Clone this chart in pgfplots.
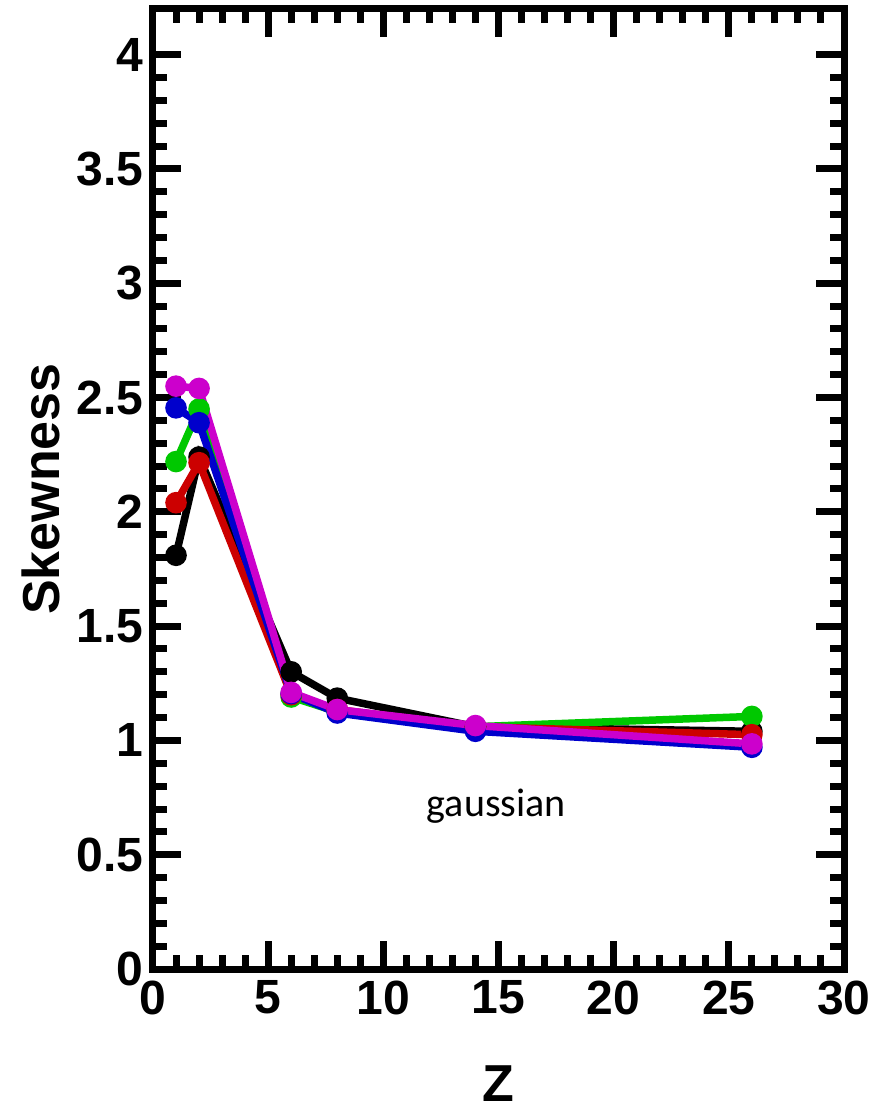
\documentclass[border=0pt]{standalone}
\usepackage{fontspec}
\setmainfont{Liberation Sans}
\newfontfamily\carlito{Carlito}
\usepackage{pgfplots}
\pgfplotsset{compat=1.18}
\definecolor{cgreen}{RGB}{0,200,0}
\definecolor{cred}{RGB}{204,0,0}
\definecolor{cblue}{RGB}{0,0,204}
\definecolor{cmag}{RGB}{204,0,204}
\begin{document}
\begin{tikzpicture}
\begin{axis}[
 width=691pt, height=960pt, scale only axis,
 xmin=0, xmax=30, ymin=0, ymax=4.2,
 xtick={0,5,10,15,20,25,30},
 ytick={0,0.5,1,1.5,2,2.5,3,3.5,4},
 minor x tick num=4, minor y tick num=4,
 tick align=inside,
 major tick length=28pt, minor tick length=14pt,
 tick style={line width=7pt, black},
 axis line style={line width=7pt},
 /pgf/number format/assume math mode=true,
 tick label style={font=\fontsize{48}{54}\selectfont\bfseries},
 xticklabel style={yshift=-8pt},
 yticklabel style={xshift=-6pt, /pgf/number format/fixed, /pgf/number format/precision=1},
 xlabel={Z},
 ylabel={Skewness},
 label style={font=\fontsize{52}{60}\selectfont\bfseries, inner sep=0pt},
 xlabel style={at={(rel axis cs:0.5,0)}, anchor=center, yshift=-115pt},
 ylabel style={at={(rel axis cs:0,0.5)}, anchor=center, yshift=112pt},
 clip=false,
 every axis plot/.append style={line width=7.5pt, mark=*, mark size=7pt, mark options={solid, line width=0.5pt}},
]
\addplot[black, mark options={fill=black}] coordinates {(1,1.81) (2,2.24) (6,1.30) (8,1.185) (14,1.06) (26,1.04)};
\addplot[cgreen, mark options={fill=cgreen}] coordinates {(1,2.22) (2,2.45) (6,1.19) (8,1.125) (14,1.06) (26,1.105)};
\addplot[cred, mark options={fill=cred}] coordinates {(1,2.04) (2,2.215) (6,1.20) (8,1.135) (14,1.06) (26,1.025)};
\addplot[cblue, mark options={fill=cblue}] coordinates {(1,2.455) (2,2.39) (6,1.205) (8,1.12) (14,1.04) (26,0.97)};
\addplot[cmag, mark options={fill=cmag}] coordinates {(1,2.55) (2,2.54) (6,1.21) (8,1.135) (14,1.065) (26,0.985)};
\node[anchor=base, font=\carlito\fontsize{40}{46}\selectfont] at (axis cs:14.9,0.669) {gaussian};
\end{axis}
\pgfresetboundingbox
\useasboundingbox ([xshift=-153pt,yshift=-147pt]current axis.south west) rectangle ([xshift=730pt,yshift=969pt]current axis.south west);
\end{tikzpicture}
\end{document}
